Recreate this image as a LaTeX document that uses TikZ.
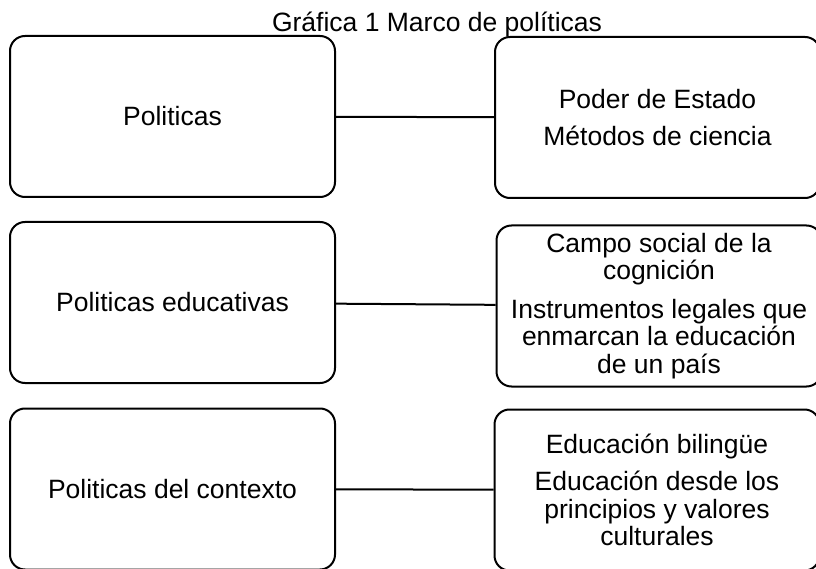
\documentclass[tikz,border=0pt]{standalone}
\usepackage{fontspec}
\setmainfont{Liberation Sans}

\begin{document}
\begin{tikzpicture}[x=1pt,y=-1pt]
        \tikzstyle{every node} = [font=\fontsize{26.5}{27.5}\selectfont, align=center]
        \tikzstyle{caja} = [rectangle, draw, line width=2pt, rounded corners=15pt, minimum width=325pt, minimum height=161pt, inner sep=0pt]
        \useasboundingbox (0,0) rectangle (816,569);

        \node[anchor=base] (tit) at (437,32) {Gráfica 1 Marco de políticas};

        \node[caja] (pol) at (172.5,116.5) {Politicas};
        \node[caja] (est) at (657.5,117.5) {Poder de Estado\\[10pt] Métodos de ciencia};

        \node[caja] (edu) at (172.5,302.5) {Politicas educativas};
        \node[caja] (cog) at (659,306) {Campo social de la\\ cognición\\[11pt] Instrumentos legales que\\ enmarcan la educación\\ de un país};

        \node[caja] (ctx) at (172.5,489) {Politicas del contexto};
        \node[caja] (bil) at (657,490) {Educación bilingüe\\[10pt] Educación desde los\\ principios y valores\\ culturales};

				\draw[line width=2pt] (pol) -- (est);
				\draw[line width=2pt] (edu) -- (cog);
				\draw[line width=2pt] (ctx) -- (bil);
    	\end{tikzpicture}
\end{document}
